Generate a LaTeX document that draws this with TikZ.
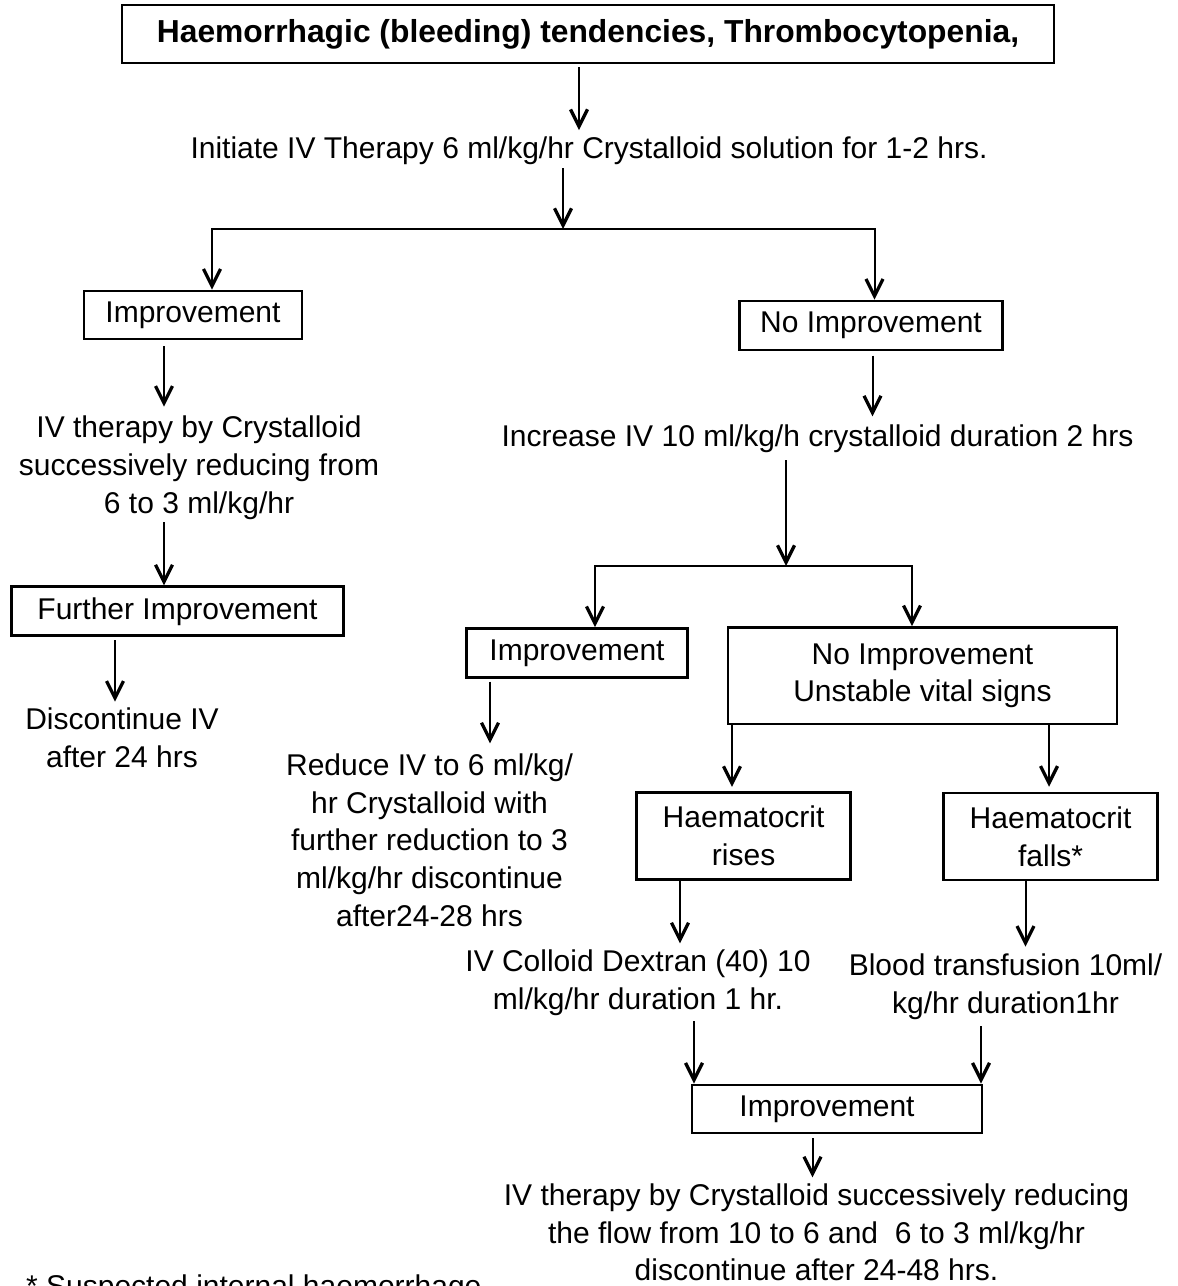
\documentclass[tikz,border=0pt]{standalone}
\usepackage{fontspec}
\setmainfont{Liberation Sans}
\usetikzlibrary{arrows.meta,calc}
\newcommand\myfs{\fontsize{30}{37.7}\selectfont}
\newcommand\mybf{\fontsize{31.8}{38}\selectfont\bfseries}
\begin{document}
\begin{tikzpicture}[x=1pt,y=-1pt,
  box/.style={draw, line width=2.7pt, inner sep=0pt, align=center, font=\myfs},
  txt/.style={inner sep=0pt, align=center, font=\myfs},
  arr/.style={line width=2pt, -{Straight Barb[length=17pt,width=17pt,line width=3.3pt]}}]
\useasboundingbox (0,0) rectangle (1178,1286);
\fill[white] (0,0) rectangle (1178,1286);

% nodes
\node[box, minimum width=932, minimum height=58, font=\mybf] (top) at (588,34) {Haemorrhagic (bleeding) tendencies, Thrombocytopenia,};
\node[txt, anchor=base] (init) at (589,158) {Initiate IV Therapy 6 ml/kg/hr Crystalloid solution for 1-2 hrs.};
\node[box, minimum width=218, minimum height=48] (imp1) at (193,315) {Improvement};
\node[box, minimum width=263, minimum height=49] (noimp1) at (871,325.5) {No Improvement};
\node[txt, anchor=north] (ivt1) at (199,415.7) {IV therapy by Crystalloid\\successively reducing from\\6 to 3 ml/kg/hr};
\node[box, minimum width=332, minimum height=49] (fur) at (177.5,611.3) {Further Improvement};
\node[txt, anchor=north] (disc) at (122,707.7) {Discontinue IV\\after 24 hrs};
\node[txt, anchor=base] (incr) at (817.5,446.7) {Increase IV 10 ml/kg/h crystalloid duration 2 hrs};
\node[box, minimum width=221, minimum height=49] (imp2) at (577,653) {Improvement};
\node[box, minimum width=389, minimum height=96.5] (noimp2) at (922.5,675.8) {No Improvement\\Unstable vital signs};
\node[txt, anchor=north] (reduce) at (429.5,753.4) {Reduce IV to 6 ml/kg/\\hr Crystalloid with\\further reduction to 3\\ml/kg/hr discontinue\\after24-28 hrs};
\node[box, minimum width=214, minimum height=87] (rises) at (743.6,835.8) {Haematocrit\\rises};
\node[box, minimum width=214, minimum height=87] (falls) at (1050.6,836.6) {Haematocrit\\falls*};
\node[txt, anchor=north] (colloid) at (638,950) {IV Colloid Dextran (40) 10\\ml/kg/hr duration 1 hr.};
\node[txt, anchor=north] (blood) at (1005.5,953.4) {Blood transfusion 10ml/\\kg/hr duration1hr};
\node[box, minimum width=290, minimum height=48] (imp3) at (837,1108.9) {Improvement\hspace*{20pt}};
\node[txt, anchor=north] (final) at (816.5,1183.4) {IV therapy by Crystalloid successively reducing\\the flow from 10 to 6 and\ \ 6 to 3 ml/kg/hr\\discontinue after 24-48 hrs.};
\node[txt, anchor=base west] (note) at (26,1296.5) {* Suspected internal haemorrhage};

\coordinate (j1) at (563,229);
\coordinate (j2) at (786,566);

% connectors
\draw[arr] ([xshift=-9pt,yshift=-3pt]top.south) -- ([xshift=-10pt,yshift=6pt]init.north);
\draw[arr] ([xshift=-26pt,yshift=-4pt]init.south) -- (j1);
\draw[arr] (j1) -| ([xshift=19pt]imp1.north);
\draw[arr] (j1) -| ([xshift=3.5pt]noimp1.north);
\draw[arr] ([xshift=-29pt,yshift=-6pt]imp1.south) -- ([xshift=-35pt,yshift=9pt]ivt1.north);
\draw[arr] ([xshift=-35pt,yshift=-3pt]ivt1.south) -- ([xshift=-13.5pt]fur.north);
\draw[arr] ([xshift=-62.5pt,yshift=-3.3pt]fur.south) -- ([xshift=-7pt,yshift=6pt]disc.north);
\draw[arr] ([xshift=1.5pt,yshift=-4.3pt]noimp1.south) -- ([xshift=55pt,yshift=8.3pt]incr.north);
\draw[arr] ([xshift=-31.5pt,yshift=-7pt]incr.south) -- (j2);
\draw[arr] (j2) -| ([xshift=18pt]imp2.north);
\draw[arr] (j2) -| ([xshift=-10.5pt]noimp2.north);
\draw[arr] ([xshift=-87pt,yshift=-2.7pt]imp2.south) -- ([xshift=60.5pt,yshift=10pt]reduce.north);
\draw[arr] ([xshift=-190.5pt]noimp2.south) -- ([xshift=-11.6pt,yshift=4pt]rises.north);
\draw[arr] ([xshift=126.5pt]noimp2.south) -- ([xshift=-1.6pt,yshift=5pt]falls.north);
\draw[arr] ([xshift=-63.6pt]rises.south) -- ([xshift=42pt,yshift=6.6pt]colloid.north);
\draw[arr] ([xshift=-25.1pt]falls.south) -- ([xshift=20pt,yshift=6.7pt]blood.north);
\draw[arr] ([xshift=56pt,yshift=-5.4pt]colloid.south) -- ([xshift=-143pt]imp3.north);
\draw[arr] ([xshift=-24.5pt,yshift=-7pt]blood.south) -- ([xshift=144pt]imp3.north);
\draw[arr] ([xshift=-24.5pt,yshift=-4pt]imp3.south) -- ([xshift=-4pt,yshift=6pt]final.north);
\end{tikzpicture}
\end{document}
